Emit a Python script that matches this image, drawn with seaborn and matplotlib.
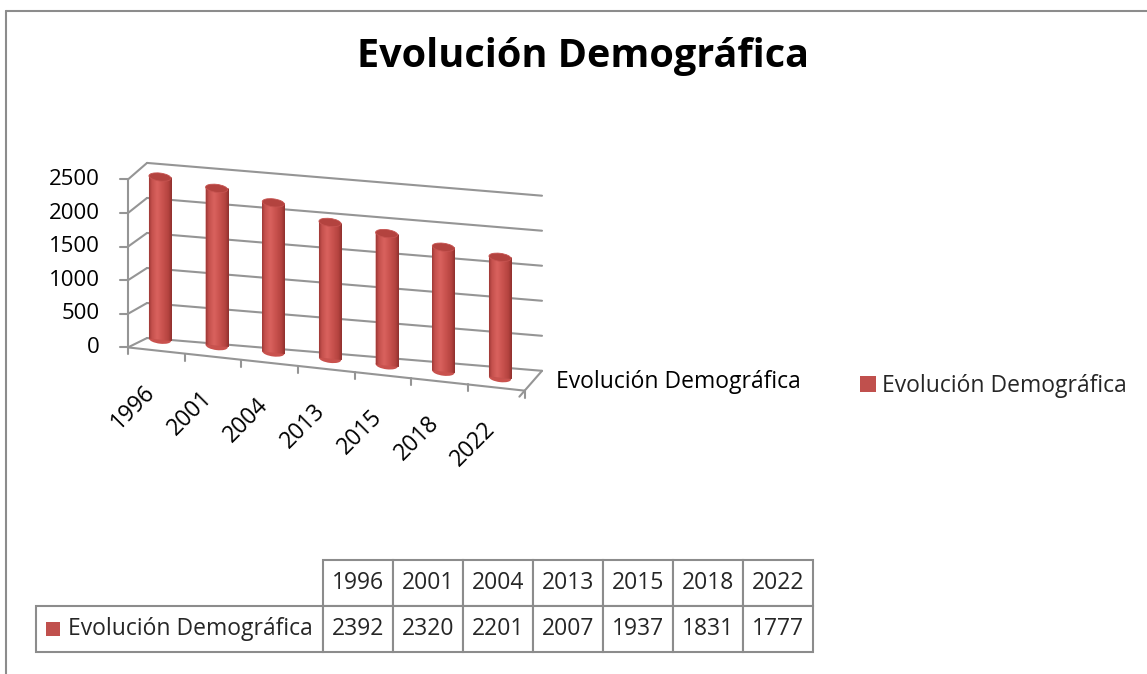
import numpy as np
import matplotlib
matplotlib.use("Agg")
import matplotlib.pyplot as plt
import matplotlib.transforms as mtransforms
from matplotlib.patches import Patch, Ellipse, Rectangle
from matplotlib.lines import Line2D
from matplotlib.colors import LinearSegmentedColormap
import seaborn as sns
import pandas as pd

# ---------------- data ----------------
years = ["1996", "2001", "2004", "2013", "2015", "2018", "2022"]
population = [2392, 2320, 2201, 2007, 1937, 1831, 1777]
series_name = "Evolución Demográfica"
title_text = "Evolución Demográfica"
y_ticks = [0, 500, 1000, 1500, 2000, 2500]

# ---------------- style ----------------
W, H = 1147, 674
BAR = "#c0504d"
EDGE = "#8c8c8c"
GRID = "#959595"

sns.set_style("white")
plt.rcParams["font.family"] = ["Open Sans", "DejaVu Sans"]

fig = plt.figure(figsize=(W / 100, H / 100), dpi=100)
fig.patch.set_facecolor("white")


def fr(x0, y0, x1, y1):
    return [x0 / W, 1 - y1 / H, (x1 - x0) / W, (y1 - y0) / H]


# plot axes covers the figure; data -> pixel mapping via limits
PX = 56.67      # px per category
PV = 0.068      # px per unit of value
PIV_X = 160.0   # pixel x of first category
BASE_Y = 339.7  # pixel y (from top) of value 0 at pivot

ax = fig.add_axes([0, 0, 1, 1])
df = pd.DataFrame({"year": years, "population": population})
sns.barplot(data=df, x="year", y="population", color=BAR, width=0.39,
            saturation=1, errorbar=None, ax=ax, linewidth=0, zorder=3)
bars = list(ax.patches)


def set_limits():
    ax.set_xlim(-PIV_X / PX, (W - PIV_X) / PX)
    ax.set_ylim(-(H - BASE_Y) / PV, BASE_Y / PV)


set_limits()
ax.set_axis_off()


def plane(slope, dy=0.0, sy=1.0, dx=0.0):
    y0 = H - BASE_Y
    aff = (mtransforms.Affine2D().translate(-PIV_X, -y0).scale(1, sy)
           .skew(0, np.arctan(-slope)).translate(PIV_X + dx, y0 + dy))
    return ax.transData + aff


T_bar = plane(0.113)
T_wall = plane(0.083, dy=0.6, sy=1.03)
T_front = plane(0.109, dy=-10.8, sy=0.988, dx=-3.7)
WALL_X0, WALL_X1 = -0.229, 6.741
ID = mtransforms.IdentityTransform()


def off(T, dx, dy):
    return mtransforms.offset_copy(T, fig=fig, x=dx, y=dy, units="dots")


def seg(p, q, **kw):
    kw.setdefault("color", GRID)
    kw.setdefault("lw", 1.5)
    fig.add_artist(Line2D([p[0], q[0]], [p[1], q[1]], transform=ID, **kw))


# back wall gridlines
for v in y_ticks:
    ax.plot([WALL_X0, WALL_X1], [v, v], transform=T_wall, color=GRID, lw=1.5,
            zorder=1, clip_on=False)

# side wall lines, left axis, ticks and labels
for v in y_ticks:
    p = T_front.transform((-0.5, v))
    q = T_wall.transform((WALL_X0, v))
    seg(p, q)
    seg(p, (p[0] - 8, p[1]))
    ax.text(-0.5, v, f"{v}", transform=off(T_front, -28, 0), ha="right",
            va="center", fontsize=16, color="black")
ax.plot([-0.5, -0.5], [0, y_ticks[-1]], transform=T_front, color=GRID, lw=1.5,
        clip_on=False, zorder=1)

# floor front edge with category ticks
n = len(years)
ax.plot([-0.5, n - 0.5], [0, 0], transform=T_front, color=GRID, lw=1.5,
        clip_on=False, zorder=1)
for b in np.arange(n + 1) - 0.5:
    p = T_front.transform((b, 0))
    seg(p, (p[0], p[1] - 7))
pr = T_front.transform((n - 0.5, 0))
qr = T_wall.transform((WALL_X1, 0))
seg(pr, qr)
d = (qr - pr) / np.hypot(*(qr - pr))
seg(pr, pr - d * 8)

# category labels
for i, yr in enumerate(years):
    ax.text(i, 0, yr, transform=off(T_front, 4, -30), rotation=45, ha="right",
            va="top", fontsize=16.5, color="black")

# cylinders
cyl = LinearSegmentedColormap.from_list(
    "cyl", [(0.0, "#9e3936"), (0.12, "#c4504c"), (0.35, "#d9625e"),
            (0.6, "#c9524e"), (0.85, "#b4433f"), (1.0, "#8f302d")])
grad = np.linspace(0, 1, 128).reshape(1, -1)
CAP = 8.0 / PV
for p in bars:
    p.set_transform(T_bar)
    p.set_clip_on(False)
    x0, w, h = p.get_x(), p.get_width(), p.get_height()
    xc = x0 + w / 2
    ax.add_patch(Ellipse((xc, 0), w, CAP, transform=T_bar, facecolor="#c9524e",
                         edgecolor="none", zorder=2.9, clip_on=False))
    im = ax.imshow(grad, cmap=cyl, extent=[x0, x0 + w, 0, h], aspect="auto",
                   transform=T_bar, interpolation="bilinear", zorder=3.1)
    im.set_clip_path(p)
    ax.add_patch(Ellipse((xc, h), w, CAP, transform=T_bar, facecolor="#b3433f",
                         edgecolor="#c65350", lw=0.6, zorder=3.2, clip_on=False))
set_limits()

# title and texts
fig.text(583 / W, 1 - 67 / H, title_text, ha="center", va="baseline",
         fontsize=28.5, fontweight="bold", color="black")
fig.text(556 / W, 1 - 382 / H, series_name, ha="left", va="center",
         fontsize=16.5, color="black")
fig.legend(handles=[Patch(facecolor=BAR, edgecolor="none")], labels=[series_name],
           loc="center left", bbox_to_anchor=(860 / W, 1 - 386 / H), frameon=False,
           fontsize=16.5, handlelength=0.68, handleheight=0.68, handletextpad=0.3,
           borderpad=0, borderaxespad=0)

# data table
axt = fig.add_axes(fr(36, 560, 813.3, 652))
axt.set_axis_off()
cell_text = [[""] + years, [series_name] + [str(v) for v in population]]
col_w = [286.7] + [70.09] * n
tbl = axt.table(cellText=cell_text, colWidths=[c / sum(col_w) for c in col_w],
                cellLoc="center", bbox=[0, 0, 1, 1])
tbl.auto_set_font_size(False)
tbl.set_fontsize(16.5)
for (r, c), cell in tbl.get_celld().items():
    cell.set_edgecolor(EDGE)
    cell.set_linewidth(1.5)
tbl[0, 0].visible_edges = "open"
lab = tbl[1, 0]
lab._loc = "left"
lab.PAD = 0.11
lab.get_text().set_ha("left")
axt.add_patch(Rectangle(((46 - 36) / 777.3, 0.25 - 7 / 92), 14 / 777.3, 14 / 92,
                        transform=axt.transAxes, facecolor=BAR, edgecolor="none",
                        zorder=5))

# outer chart border
fig.add_artist(Line2D([6 / W, 1], [1 - 11 / H, 1 - 11 / H], transform=fig.transFigure,
                      color=EDGE, lw=1.5))
fig.add_artist(Line2D([6 / W, 6 / W], [1 - 11 / H, 0], transform=fig.transFigure,
                      color=EDGE, lw=1.5))

fig.savefig("out.png", dpi=100, facecolor="white")
